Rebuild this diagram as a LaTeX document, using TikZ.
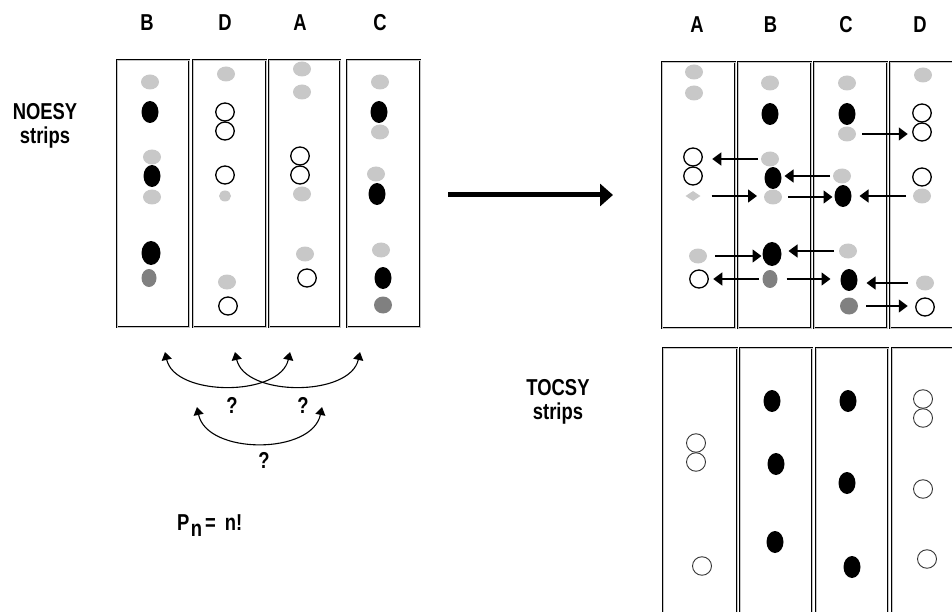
\documentclass[tikz,border=0pt]{standalone}
\usepackage{fontspec}
\setmainfont{Liberation Sans}
\newfontfamily\lblfont[FakeStretch=0.8]{Liberation Sans}
\usetikzlibrary{shapes.geometric,arrows.meta}
\definecolor{lgray}{RGB}{200,200,200}
\definecolor{dgray}{RGB}{128,128,128}
\begin{document}
\begin{tikzpicture}[x=1pt,y=-1pt,
  strip/.style={draw=black, double=gray!45, double distance=0.7pt, line width=0.8pt},
  lbl/.style={font=\lblfont\fontsize{23}{26}\selectfont\bfseries, inner sep=0pt, anchor=base},
  pk/.style={ellipse, inner sep=0pt, outer sep=0pt},
  lg/.style={pk, fill=lgray, minimum width=18pt, minimum height=15pt},
  sm/.style={pk, fill=lgray, minimum width=12pt, minimum height=11pt},
  dia/.style={diamond, inner sep=0pt, fill=lgray, minimum width=15pt, minimum height=10pt},
  bk/.style={pk, fill=black, minimum width=17pt, minimum height=22pt},
  bkl/.style={pk, fill=black, minimum width=19pt, minimum height=24pt},
  dg/.style={pk, fill=dgray, minimum width=15pt, minimum height=18pt},
  dgr/.style={pk, fill=dgray, minimum width=18pt, minimum height=17pt},
  op/.style={pk, draw=black, line width=1.3pt, minimum width=18.5pt, minimum height=18pt},
  opt/.style={pk, draw=black!80, line width=0.9pt, minimum width=19pt, minimum height=18.5pt},
  tk/.style={pk, fill=black, minimum width=17pt, minimum height=22pt},
  arr/.style={line width=1.4pt, -{Triangle[length=9pt,width=13pt]}},
  carr/.style={line width=1.1pt, {Triangle[length=8pt,width=10pt]}-{Triangle[length=8pt,width=10pt]}},
  big/.style={line width=5pt, -{Triangle[length=13pt,width=22pt]}}
]
\useasboundingbox (0,0) rectangle (952,612);
\begin{scope}
\clip (0,0) rectangle (952,612);
% ---------- left NOESY strips
\draw[strip] (117,60) rectangle (189,327);
\draw[strip] (193,60) rectangle (266,327);
\draw[strip] (269,60) rectangle (340,327);
\draw[strip] (347,60) rectangle (420,327);
\node[lbl] (lB) at (147,31) {B};
\node[lbl] (lD) at (225,31) {D};
\node[lbl] (lA) at (300,31) {A};
\node[lbl] (lC) at (380,31) {C};
\node[lbl] (noesy) at (45,120) {NOESY};
\node[lbl] (noesys) at (45,144) {strips};
% B
\node[lg] (b1) at (150,82) {};
\node[bk] (b2) at (150,112) {};
\node[lg] (b3) at (152,157) {};
\node[bk] (b4) at (152,176) {};
\node[lg] (b5) at (152,197) {};
\node[bkl] (b6) at (151,253) {};
\node[dg] (b7) at (149,278) {};
% D
\node[lg] (d1) at (226,74) {};
\node[op] (d2) at (225,112) {};
\node[op] (d3) at (225,131) {};
\node[op] (d4) at (225,175) {};
\node[sm] (d5) at (225,196) {};
\node[lg] (d6) at (227,282) {};
\node[op] (d7) at (228,306) {};
% A
\node[lg] (a1) at (302,69) {};
\node[lg] (a2) at (302,92) {};
\node[op] (a3) at (300,156) {};
\node[op] (a4) at (300,175) {};
\node[lg] (a5) at (302,194) {};
\node[lg] (a6) at (305,254) {};
\node[op] (a7) at (307,278) {};
% C
\node[lg] (c1) at (380,82) {};
\node[bk] (c2) at (379,112) {};
\node[lg] (c3) at (380,132) {};
\node[lg] (c4) at (376,174) {};
\node[bk] (c5) at (377,194) {};
\node[lg] (c6) at (381,250) {};
\node[bk] (c7) at (383,278) {};
\node[dgr] (c8) at (383,305) {};
% ---------- curved arrows
\coordinate (p1) at (165,352); \coordinate (p2) at (290,352);
\coordinate (p3) at (235,352); \coordinate (p4) at (360,352);
\coordinate (p5) at (197,407); \coordinate (p6) at (322,407);
\draw[carr] (p1) .. controls +(10,45) and +(-10,45) .. (p2);
\draw[carr] (p3) .. controls +(10,45) and +(-10,45) .. (p4);
\draw[carr] (p5) .. controls +(10,48) and +(-10,48) .. (p6);
\node[lbl] (q1) at (232,413) {?};
\node[lbl] (q2) at (303,413) {?};
\node[lbl] (q3) at (264,468) {?};
\node[lbl, anchor=base west] (pn) at (177,530) {P\kern1.5pt\raisebox{-6pt}{n}\kern3pt=\kern9pt n!};
% ---------- big arrow
\coordinate (ba) at (448,195); \coordinate (bb) at (613,195);
\draw[big] (ba) -- (bb);
% ---------- right NOESY strips
\draw[strip] (662,62) rectangle (735,328);
\draw[strip] (738,62) rectangle (811,328);
\draw[strip] (814,62) rectangle (887,328);
\draw[strip] (890,62) rectangle (963,328);
\node[lbl] (rA) at (697,33) {A};
\node[lbl] (rB) at (770.5,33) {B};
\node[lbl] (rC) at (846,33) {C};
\node[lbl] (rD) at (920,33) {D};
% A
\node[lg] (ra1) at (694,72) {};
\node[lg] (ra2) at (694,93) {};
\node[op] (ra3) at (693,157) {};
\node[op] (ra4) at (693,176) {};
\node[dia] (ra5) at (693,196) {};
\node[lg] (ra6) at (698,256) {};
\node[op] (ra7) at (699,279) {};
% B
\node[lg] (rb1) at (770,83) {};
\node[bk] (rb2) at (770,114) {};
\node[lg] (rb3) at (770,159) {};
\node[bk] (rb4) at (773,178) {};
\node[lg] (rb5) at (773,197) {};
\node[bkl] (rb6) at (772,254) {};
\node[dg] (rb7) at (770,279) {};
% C
\node[lg] (rc1) at (847,83) {};
\node[bk] (rc2) at (847,114) {};
\node[lg] (rc3) at (847,134) {};
\node[lg] (rc4) at (842,176) {};
\node[bk] (rc5) at (843,196) {};
\node[lg] (rc6) at (848,251) {};
\node[bk] (rc7) at (849,280) {};
\node[dgr] (rc8) at (849,306) {};
% D
\node[lg] (rd1) at (923,75) {};
\node[op] (rd2) at (922,113) {};
\node[op] (rd3) at (922,132) {};
\node[op] (rd4) at (922,177) {};
\node[lg] (rd5) at (922,196) {};
\node[lg] (rd6) at (925,283) {};
\node[op] (rd7) at (925,307) {};
% arrows
\draw[arr, shorten <=6pt, shorten >=5pt] (rc3.east) -- (rc3.east -| rd2.west);
\draw[arr, shorten <=3pt, shorten >=10pt] (rb3.west) -- (rb3.west -| ra3.east);
\draw[arr, shorten <=3pt, shorten >=3pt] (rc4.west) -- (rc4.west -| rb4.east);
\draw[arr, shorten <=11pt, shorten >=7pt] (ra5.east) -- (ra5.east -| rb5.west);
\draw[arr, shorten <=6pt, shorten >=2pt] (rb5.east) -- (rb5.east -| rc5.west);
\draw[arr, shorten <=7pt, shorten >=8pt] (rd5.west) -- (rd5.west -| rc5.east);
\draw[arr, shorten <=8pt, shorten >=1pt] (ra6.east) -- (ra6.east -| rb6.west);
\draw[arr, shorten <=5pt, shorten >=7pt] (rc6.west) -- (rc6.west -| rb6.east);
\draw[arr, shorten <=4pt, shorten >=5pt] (rb7.west) -- (rb7.west -| ra7.east);
\draw[arr, shorten <=9pt, shorten >=10pt] (rb7.east) -- (rb7.east -| rc7.west);
\draw[arr, shorten <=8pt, shorten >=9pt] (rd6.west) -- (rd6.west -| rc7.east);
\draw[arr, shorten <=8pt, shorten >=8pt] (rc8.east) -- (rc8.east -| rd7.west);
% ---------- TOCSY strips
\draw[strip] (663,348) rectangle (737,640);
\draw[strip] (740,348) rectangle (812,640);
\draw[strip] (816,348) rectangle (888,640);
\draw[strip] (892,348) rectangle (965,640);
\node[lbl] (tocsy) at (558,395) {TOCSY};
\node[lbl] (tocsys) at (558,419) {strips};
\node[opt] (ta1) at (696,443) {};
\node[opt] (ta2) at (696,462) {};
\node[opt] (ta3) at (702,566) {};
\node[tk] (tb1) at (772,401) {};
\node[tk] (tb2) at (776,464) {};
\node[tk] (tb3) at (775,542) {};
\node[tk] (tc1) at (848,401) {};
\node[tk] (tc2) at (847,483) {};
\node[tk] (tc3) at (852,567) {};
\node[opt] (td1) at (923,399) {};
\node[opt] (td2) at (923,418) {};
\node[opt] (td3) at (923,489) {};
\node[opt] (td4) at (927,559) {};
\end{scope}
\end{tikzpicture}
\end{document}
